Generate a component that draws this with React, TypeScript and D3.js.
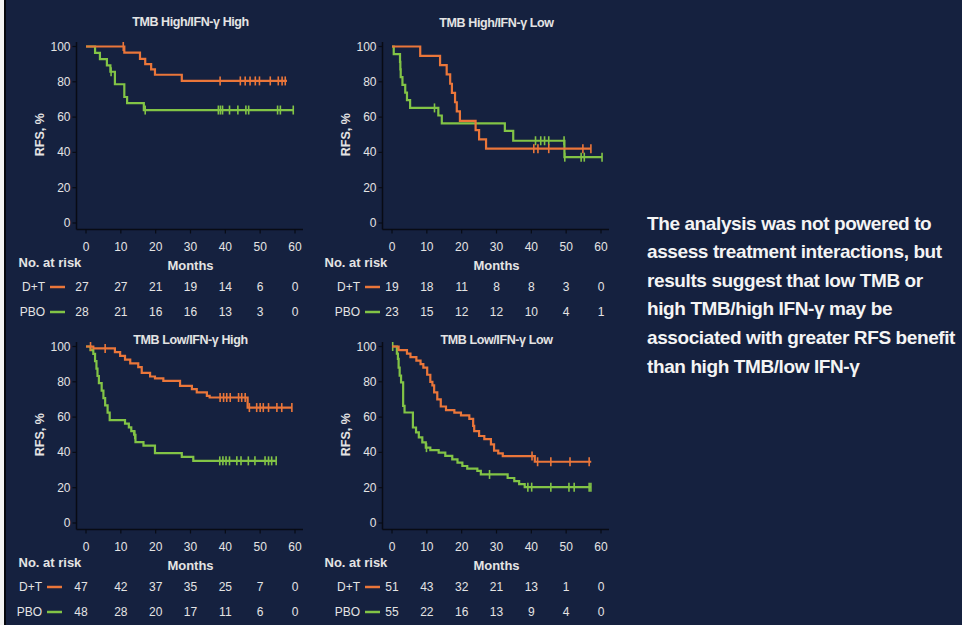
import React from 'react'
import * as d3 from 'd3'

// shared axis ticks
const months = [0, 10, 20, 30, 40, 50, 60]
const rfsTicks = [0, 20, 40, 60, 80, 100]

// TMB High / IFN-γ High
const hhTitle = 'TMB High/IFN-γ High'
const hhDT: [number, number][] = [[0, 100], [11, 96.5], [15.5, 93], [17, 90], [18.7, 87], [19.8, 84], [27.5, 80.5], [57.7, 80.5]]
const hhDTCensor = [10.7, 38.5, 44.3, 45.7, 47.1, 48.6, 49.8, 52.9, 55.2, 56.3, 57.2]
const hhPBO: [number, number][] = [[0, 100], [2.6, 96.4], [4, 92.9], [6, 89.3], [7, 85.7], [8.3, 78.6], [11, 71.4], [11.8, 67.9], [16.6, 64], [59.5, 64]]
const hhPBOCensor = [7.2, 17, 38, 38.6, 39.2, 41.2, 43.6, 45.9, 46.7, 55, 55.8, 59.5]
const hhRiskDT = [27, 27, 21, 19, 14, 6, 0]
const hhRiskPBO = [28, 21, 16, 16, 13, 3, 0]

// TMB High / IFN-γ Low
const hlTitle = 'TMB High/IFN-γ Low'
const hlDT: [number, number][] = [[0, 100], [8.1, 94.7], [13.8, 89.5], [15.7, 84.2], [16.7, 78.9], [17.2, 73.7], [18.1, 68.4], [18.6, 63.2], [19.5, 57.9], [24, 52.6], [25, 47.4], [27, 42.1], [57.1, 42.1]]
const hlDTCensor = [40.7, 41.9, 45, 54.8, 57.1]
const hlPBO: [number, number][] = [[0, 100], [0.5, 95.7], [2.3, 91.3], [2.4, 87], [2.5, 82.6], [3, 78.3], [3.8, 73.9], [4.3, 69.6], [5.2, 65.2], [13.3, 60.9], [14.3, 56.5], [32.4, 52.2], [34.8, 46.6], [49.5, 37.3], [60.3, 37.3]]
const hlPBOCensor = [12.2, 41.2, 42.7, 43.8, 45, 49.4, 49.6, 54.3, 55.2, 60.3]
const hlRiskDT = [19, 18, 11, 8, 8, 3, 0]
const hlRiskPBO = [23, 15, 12, 12, 10, 4, 1]

// TMB Low / IFN-γ High
const lhTitle = 'TMB Low/IFN-γ High'
const lhDT: [number, number][] = [[0, 100], [2.1, 98.9], [8.3, 96.8], [9.8, 94.7], [11.2, 92.6], [12.7, 90.4], [15, 88.3], [16, 85.1], [18.4, 83], [19.8, 81.9], [22.2, 80.5], [27, 77.7], [30.4, 75.8], [31.8, 74], [34.7, 72], [35.5, 71.1], [46.4, 65.4], [59.1, 65.4]]
const lhDTCensor = [1.3, 5.5, 38.5, 39.5, 40.4, 41.4, 43.8, 44.7, 45.7, 46.9, 49, 50, 50.9, 52.4, 54.8, 56.2, 59.1]
const lhPBO: [number, number][] = [[0, 100], [1.3, 97.9], [2.1, 95.8], [2.6, 91.7], [3, 87.5], [3.3, 83.3], [3.7, 79.2], [4.5, 75], [5, 70.8], [5.5, 66.7], [6.2, 62.5], [6.8, 58.3], [11.2, 56.3], [12.3, 54.2], [13, 52.1], [13.8, 50], [14.2, 45.8], [16.5, 43.8], [19.8, 39.6], [27.5, 37.5], [30.8, 35.2], [54.6, 35.2]]
const lhPBOCensor = [14, 38.4, 39.3, 40.2, 41.2, 43.3, 44.5, 46.6, 48.5, 51.4, 52.4, 53.3, 54.6]
const lhRiskDT = [47, 42, 37, 35, 25, 7, 0]
const lhRiskPBO = [48, 28, 20, 17, 11, 6, 0]

// TMB Low / IFN-γ Low
const llTitle = 'TMB Low/IFN-γ Low'
const llDT: [number, number][] = [[0, 100], [1.9, 98], [4.3, 96], [5.3, 94], [7, 92], [8.2, 90], [9, 88], [10.1, 84], [11, 80], [11.6, 78], [12.1, 74], [13, 70], [14, 66], [15.5, 64], [17.9, 62.5], [19.8, 61], [22.2, 59], [23.3, 55], [23.6, 52], [25, 49.3], [26.5, 47.5], [28.4, 44.6], [29.3, 41], [30.5, 39.5], [31.8, 37.9], [41, 34.7], [57.2, 34.7]]
const llDTCensor = [40.2, 41.8, 45.6, 51.1, 56.6]
const llPBO: [number, number][] = [[0, 100], [1.4, 96], [1.7, 93], [1.9, 88], [2.2, 83.5], [2.6, 79.7], [3.2, 66.4], [3.6, 62.6], [6, 54.1], [6.9, 51.3], [7.7, 48.5], [8.7, 45.7], [9.7, 42.7], [11, 41.3], [13.4, 39.9], [15.3, 38], [17.3, 36], [18.8, 34.2], [20.2, 32.3], [21.6, 30.8], [24.5, 29.5], [25.5, 27.5], [33.2, 25.5], [35.1, 23.7], [36.5, 22], [38.1, 20.3], [57.1, 20.3]]
const llPBOCensor = [0.2, 9.9, 28, 39, 40.1, 45.6, 50.8, 52.3, 56.6, 57.1]
const llRiskDT = [51, 43, 32, 21, 13, 1, 0]
const llRiskPBO = [55, 22, 16, 13, 9, 4, 0]

const noteLines = [
  'The analysis was not powered to',
  'assess treatment interactions, but',
  'results suggest that low TMB or',
  'high TMB/high IFN-γ may be',
  'associated with greater RFS benefit',
  'than high TMB/low IFN-γ',
]

const BG = '#15213f'
const ORANGE = '#ea763a'
const GREEN = '#82c446'
const INK = '#e4e4e4'
const NARROW = "'Liberation Sans Narrow', 'Arial Narrow', 'Liberation Sans', Arial, sans-serif"
const SANS = "'Liberation Sans', Arial, sans-serif"

const panels = [
  { title: hhTitle, dt: hhDT, dtC: hhDTCensor, pbo: hhPBO, pboC: hhPBOCensor, riskDT: hhRiskDT, riskPBO: hhRiskPBO, left: 86, bottom: 223, titleY: 22, keyEnd: 45, firstShift: -4 },
  { title: hlTitle, dt: hlDT, dtC: hlDTCensor, pbo: hlPBO, pboC: hlPBOCensor, riskDT: hlRiskDT, riskPBO: hlRiskPBO, left: 392, bottom: 223, titleY: 22.5, keyEnd: 360, firstShift: 0 },
  { title: lhTitle, dt: lhDT, dtC: lhDTCensor, pbo: lhPBO, pboC: lhPBOCensor, riskDT: lhRiskDT, riskPBO: lhRiskPBO, left: 86, bottom: 523, titleY: 339.5, keyEnd: 42, firstShift: -5 },
  { title: llTitle, dt: llDT, dtC: llDTCensor, pbo: llPBO, pboC: llPBOCensor, riskDT: llRiskDT, riskPBO: llRiskPBO, left: 392, bottom: 523, titleY: 340, keyEnd: 360, firstShift: 0 },
]

// value of a step curve at time t
const survivalAt = (steps: [number, number][], t: number) => {
  let v = steps[0][1]
  for (const [m, p] of steps) if (m <= t) v = p
  return v
}

const Panel = ({ cfg }: { cfg: (typeof panels)[number] }) => {
  const x = d3.scaleLinear().domain([0, 60]).range([cfg.left, cfg.left + 209])
  const y = d3.scaleLinear().domain([0, 100]).range([cfg.bottom, cfg.bottom - 176.5])
  const axisX = x(0) - 9.5
  const axisY = y(0) + 6.5
  const line = d3
    .line<[number, number]>()
    .x((d) => x(d[0]))
    .y((d) => y(d[1]))
    .curve(d3.curveStepAfter)

  const curve = (steps: [number, number][], censor: number[], color: string) => (
    <g>
      <path d={line(steps) || ''} fill="none" stroke={color} strokeWidth={2.2} />
      {censor.map((t, i) => (
        <line key={i} x1={x(t)} x2={x(t)} y1={y(survivalAt(steps, t)) - 4.5} y2={y(survivalAt(steps, t)) + 4.5} stroke={color} strokeWidth={1.6} />
      ))}
    </g>
  )

  const riskRow = (label: string, values: number[], color: string, rowY: number) => (
    <g>
      <text x={cfg.keyEnd} y={rowY} textAnchor="end" dominantBaseline="central" fontFamily={NARROW} fontSize={12} fill={INK}>
        {label}
      </text>
      <line x1={cfg.keyEnd + 5} x2={cfg.keyEnd + 20} y1={rowY} y2={rowY} stroke={color} strokeWidth={2.5} />
      {values.map((v, i) => (
        <text key={i} x={x(months[i]) + (i === 0 ? cfg.firstShift : 0)} y={rowY} textAnchor="middle" dominantBaseline="central" fontFamily={NARROW} fontSize={12} fill={INK}>
          {v}
        </text>
      ))}
    </g>
  )

  return (
    <g>
      <text x={x(30)} y={cfg.titleY} textAnchor="middle" dominantBaseline="central" fontFamily={NARROW} fontWeight="bold" fontSize={12.5} letterSpacing={-0.4} fill={INK}>
        {cfg.title}
      </text>
      {/* axes */}
      <line x1={axisX} x2={axisX} y1={y(100) - 4.5} y2={axisY} stroke="#080b14" strokeWidth={1.5} />
      <line x1={axisX} x2={x(60) + 8} y1={axisY} y2={axisY} stroke="#080b14" strokeWidth={1.5} />
      {rfsTicks.map((v) => (
        <g key={v}>
          <line x1={axisX - 4} x2={axisX} y1={y(v)} y2={y(v)} stroke="#080b14" strokeWidth={1.2} />
          <text x={axisX - 6} y={y(v)} textAnchor="end" dominantBaseline="central" fontFamily={NARROW} fontSize={12} fill={INK}>
            {v}
          </text>
        </g>
      ))}
      {months.map((m) => (
        <g key={m}>
          <line x1={x(m)} x2={x(m)} y1={axisY} y2={axisY + 4} stroke="#080b14" strokeWidth={1.2} />
          <text x={x(m)} y={axisY + 17} textAnchor="middle" dominantBaseline="central" fontFamily={NARROW} fontSize={12} fill={INK}>
            {m}
          </text>
        </g>
      ))}
      <text transform={`translate(${axisX - 37},${y(50)}) rotate(-90)`} textAnchor="middle" dominantBaseline="central" fontFamily={NARROW} fontWeight="bold" fontSize={12.5} fill={INK}>
        RFS, %
      </text>
      <text x={x(30)} y={axisY + 36} textAnchor="middle" dominantBaseline="central" fontFamily={NARROW} fontWeight="bold" fontSize={13} fill={INK}>
        Months
      </text>
      <text x={axisX - 58} y={axisY + 33} dominantBaseline="central" fontFamily={NARROW} fontWeight="bold" fontSize={13} fill={INK}>
        No. at risk
      </text>
      {/* curves */}
      {curve(cfg.pbo, cfg.pboC, GREEN)}
      {curve(cfg.dt, cfg.dtC, ORANGE)}
      {riskRow('D+T', cfg.riskDT, ORANGE, axisY + 57.5)}
      {riskRow('PBO', cfg.riskPBO, GREEN, axisY + 82.5)}
    </g>
  )
}

export default function App() {
  return (
    <svg width={962} height={625} style={{ position: 'absolute', left: 0, top: 0, display: 'block' }}>
      <rect x={0} y={0} width={962} height={625} fill={BG} />
      <rect x={0} y={0} width={4} height={625} fill="#f2f2f2" />
      <rect x={4} y={0} width={2} height={625} fill="#05070d" />
      {panels.map((p, i) => (
        <Panel key={i} cfg={p} />
      ))}
      {noteLines.map((t, i) => (
        <text key={i} x={647} y={229.5 + i * 28.6} fontFamily={SANS} fontWeight="bold" fontSize={19} letterSpacing={-0.4} fill="#f4f4f4">
          {t}
        </text>
      ))}
    </svg>
  )
}
